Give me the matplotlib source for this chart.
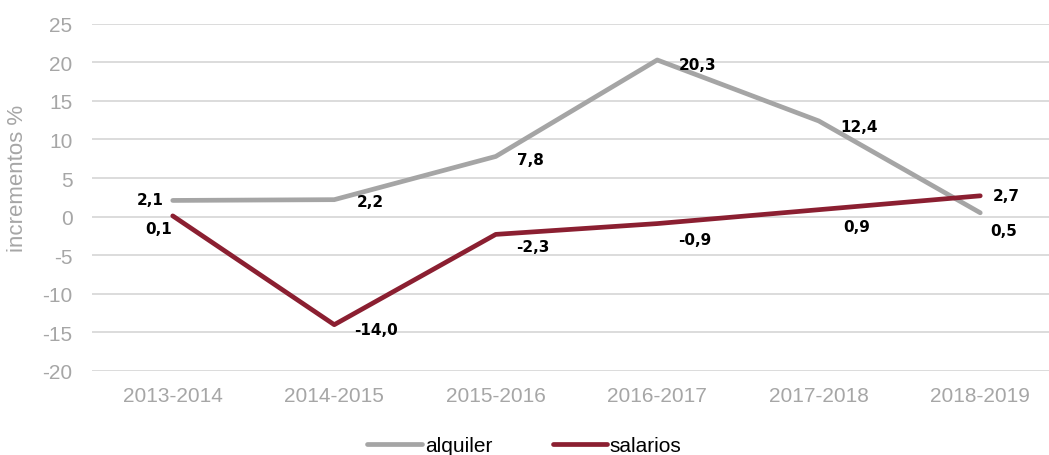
import matplotlib.pyplot as plt
import numpy as np

plt.rcParams["axes.unicode_minus"] = False

periods = ["2013-2014", "2014-2015", "2015-2016", "2016-2017", "2017-2018", "2018-2019"]
alquiler = [2.1, 2.2, 7.8, 20.3, 12.4, 0.5]
salarios = [0.1, -14.0, -2.3, -0.9, 0.9, 2.7]

# label offsets in points (dx, dy), picked to mimic the reference placement
alq_off = [(-16, 1), (26, -1.5), (25, -2), (29, -3), (29, -4), (17, -13)]
sal_off = [(-10, -9), (30, -3.6), (27, -9), (27, -11.5), (27, -12), (19, 0)]

grey = "#a5a5a5"
red = "#8b1f31"
tick_col = "#a6a6a6"

fig = plt.figure(figsize=(10.49, 4.56), dpi=100)
ax = fig.add_axes([92 / 1049, 84 / 456, 969 / 1049, 347.3 / 456])

x = np.arange(len(periods))
ax.plot(x, alquiler, color=grey, lw=3.4, label="alquiler", solid_capstyle="round", zorder=3)
ax.plot(x, salarios, color=red, lw=3.4, label="salarios", solid_capstyle="round", zorder=3)

lab_font = dict(fontsize=11, fontweight="bold", color="black", family="DejaVu Sans")
for xi, v, (dx, dy) in zip(x, alquiler, alq_off):
    ax.annotate(f"{v:.1f}".replace(".", ","), (xi, v), xytext=(dx, dy), textcoords="offset points",
                ha="center", va="center", **lab_font)
for xi, v, (dx, dy) in zip(x, salarios, sal_off):
    ax.annotate(f"{v:.1f}".replace(".", ","), (xi, v), xytext=(dx, dy), textcoords="offset points",
                ha="center", va="center", **lab_font)

ax.set_xlim(-0.5, 5.5)
ax.set_ylim(-20, 25)
ax.set_yticks(range(-20, 30, 5))
ax.set_xticks(x)
ax.set_xticklabels(periods)
ax.grid(axis="y", color="#d9d9d9", lw=1.3)
ax.set_axisbelow(True)
for s in ax.spines.values():
    s.set_visible(False)
ax.tick_params(length=0, labelsize=15, colors=tick_col, labelfontfamily="Liberation Sans")
ax.tick_params(axis="x", pad=11)
ax.tick_params(axis="y", pad=14)

ax.set_ylabel("incrementos %", fontsize=16, color=tick_col, family="Liberation Sans")
ax.yaxis.set_label_coords(-0.066, 0.556)

fig.legend(loc="center", bbox_to_anchor=(0.5, 0.02), ncol=2, frameon=False,
           prop={"family": "Liberation Sans", "size": 15}, handlelength=2.6,
           handletextpad=0.15, columnspacing=2.9)

fig.savefig("out.png", dpi=100)
